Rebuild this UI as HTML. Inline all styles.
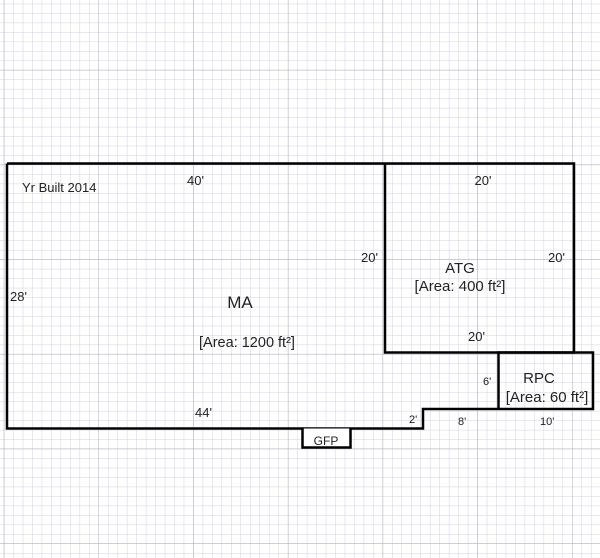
<!DOCTYPE html>
<html><head><meta charset="utf-8"><style>
html,body{margin:0;padding:0;background:#fff;}
svg{display:block;}
text{font-family:"Liberation Sans",Arial,sans-serif;fill:#222;}
</style></head><body>
<svg width="600" height="558" viewBox="0 0 600 558" xmlns="http://www.w3.org/2000/svg">
<defs>
<pattern id="minor" x="3.8" y="3.7" width="9.47" height="9.47" patternUnits="userSpaceOnUse">
<path d="M0 0H9.47M0 0V9.47" stroke="#d2d3de" stroke-width="1" fill="none"/>
</pattern>
<pattern id="major" x="3.8" y="69.8" width="94.7" height="94.7" patternUnits="userSpaceOnUse">
<path d="M0 0H94.7M0 0V94.7" stroke="#b0b0b8" stroke-width="1" fill="none"/>
</pattern>
</defs>
<rect width="600" height="558" fill="url(#minor)"/>
<rect width="600" height="558" fill="url(#major)"/>
<g stroke="#000" stroke-width="2.5" fill="none" stroke-linejoin="miter">
<path d="M7 163.5H574V352.5H385V163.5"/>
<path d="M7 163.5V428.5H423V409H593V352.5H498.5V409"/>
<path d="M302.5 428.5V447.5H350.5V428.5" fill="#fff"/>
</g>
<text x="22" y="192" font-size="13">Yr Built 2014</text>
<text x="187" y="185" font-size="13">40'</text>
<text x="10" y="301" font-size="13">28'</text>
<text x="361" y="262" font-size="13">20'</text>
<text x="240" y="308" font-size="17" text-anchor="middle">MA</text>
<text x="247" y="347" font-size="14.5" text-anchor="middle">[Area: 1200 ft²]</text>
<text x="195" y="417" font-size="13">44'</text>
<text x="483" y="185" font-size="13" text-anchor="middle">20'</text>
<text x="548" y="262" font-size="13">20'</text>
<text x="460" y="273" font-size="15" text-anchor="middle">ATG</text>
<text x="460" y="291" font-size="15" text-anchor="middle">[Area: 400 ft²]</text>
<text x="468" y="341" font-size="13">20'</text>
<text x="483" y="385" font-size="11">6'</text>
<text x="539" y="383" font-size="15" text-anchor="middle">RPC</text>
<text x="547" y="402" font-size="15" text-anchor="middle">[Area: 60 ft²]</text>
<text x="409" y="423" font-size="11">2'</text>
<text x="458" y="425" font-size="11">8'</text>
<text x="540" y="425" font-size="11">10'</text>
<text x="326" y="445" font-size="12" text-anchor="middle">GFP</text>
</svg>
</body></html>
